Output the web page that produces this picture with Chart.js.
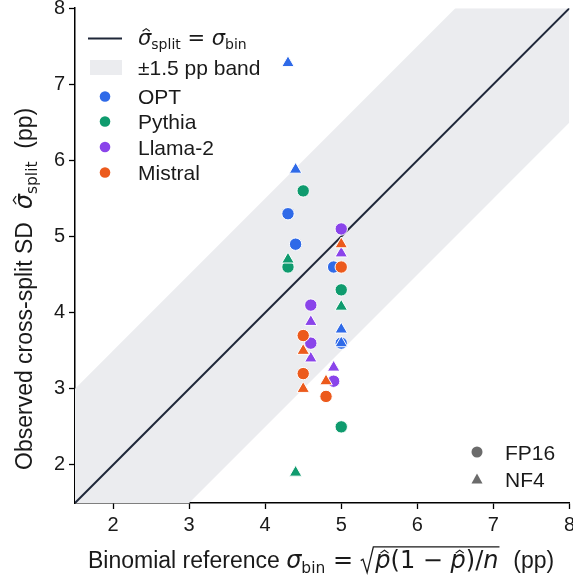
<!DOCTYPE html>
<html><head><meta charset="utf-8">
<script src="https://cdn.jsdelivr.net/npm/chart.js@4.4.0/dist/chart.umd.min.js"></script>
<style>html,body{margin:0;padding:0;background:#fff;overflow:hidden}#wrap{width:579px;height:588px;position:relative}</style>
</head><body><div id="wrap"><canvas id="c"></canvas></div>
<script>
// ---- data ----
const models = ['OPT', 'Pythia', 'Llama-2', 'Mistral'];
const modelColors = ['#2f6ae8', '#0f9b6e', '#8a44ea', '#ec5a1c'];
const quantNames = ['FP16', 'NF4'];
const quantStyles = ['circle', 'triangle'];
const xTicks = [2, 3, 4, 5, 6, 7, 8];
const yTicks = [2, 3, 4, 5, 6, 7, 8];
const axisMin = 1.5, axisMax = 8;
const bandHalfWidth = 1.5;

// sigma_bin (x) and observed sigma_split (y), in pp
const optFP16X = [4.3, 4.4, 4.9, 5.0];
const optFP16Y = [5.3, 4.9, 4.6, 3.6];
const optNF4X = [4.3, 4.4, 5.0, 5.0];
const optNF4Y = [7.28, 5.88, 3.78, 3.6];
const pythiaFP16X = [4.5, 4.3, 5.0, 5.0];
const pythiaFP16Y = [5.6, 4.6, 4.3, 2.5];
const pythiaNF4X = [4.3, 5.0, 4.4];
const pythiaNF4Y = [4.7, 4.08, 1.9];
const llamaFP16X = [5.0, 4.6, 4.6, 4.9];
const llamaFP16Y = [5.1, 4.1, 3.6, 3.1];
const llamaNF4X = [5.0, 4.6, 4.6, 4.9];
const llamaNF4Y = [4.78, 3.88, 3.4, 3.28];
const mistralFP16X = [5.0, 4.5, 4.5, 4.8];
const mistralFP16Y = [4.6, 3.7, 3.2, 2.9];
const mistralNF4X = [5.0, 4.5, 4.8, 4.5];
const mistralNF4Y = [4.9, 3.5, 3.1, 3.0];

const seriesX = [[optFP16X, optNF4X], [pythiaFP16X, pythiaNF4X], [llamaFP16X, llamaNF4X], [mistralFP16X, mistralNF4X]];
const seriesY = [[optFP16Y, optNF4Y], [pythiaFP16Y, pythiaNF4Y], [llamaFP16Y, llamaNF4Y], [mistralFP16Y, mistralNF4Y]];

// ---- fonts ----
const FONT = '"Liberation Sans", Arial, Helvetica, sans-serif';
const MATH = '"DejaVu Sans", sans-serif';
const INK = '#1a1a1a';

const zip = (xs, ys) => xs.map((x, i) => ({x, y: ys[i]}));

const datasets = [];
datasets.push({type: 'line', label: 'band-upper', data: [{x: axisMin, y: axisMin + bandHalfWidth}, {x: axisMax, y: axisMax + bandHalfWidth}],
  borderWidth: 0, borderColor: 'rgba(0,0,0,0)', pointRadius: 0, fill: false, order: 100});
datasets.push({type: 'line', label: 'band-lower', data: [{x: axisMin, y: axisMin - bandHalfWidth}, {x: axisMax, y: axisMax - bandHalfWidth}],
  borderWidth: 0, borderColor: 'rgba(0,0,0,0)', pointRadius: 0, fill: '-1', backgroundColor: '#ebecef', order: 99});
datasets.push({type: 'line', label: 'identity', data: [{x: axisMin, y: axisMin}, {x: axisMax, y: axisMax}],
  borderWidth: 2, borderColor: '#1f2739', pointRadius: 0, fill: false, order: 90});

models.forEach((m, i) => {
  quantNames.forEach((q, j) => {
    datasets.push({
      type: 'scatter', label: m + ' ' + q,
      data: zip(seriesX[i][j], seriesY[i][j]),
      pointStyle: quantStyles[j],
      pointRadius: j === 0 ? 6.2 : 7.2,
      pointBackgroundColor: modelColors[i],
      pointBorderColor: '#ffffff',
      pointBorderWidth: 1,
      pointHoverRadius: j === 0 ? 6.2 : 7.2,
      order: 50 - (i * 2 + j),
      clip: false
    });
  });
});

function drawRuns(ctx, items, x, y, size) {
  let cx = x;
  for (const it of items) {
    if (it.sqrt) {
      const startX = cx;
      const innerStart = startX + size * 0.55;
      const endX = drawRuns(ctx, it.sqrt, innerStart + 2, y, size);
      const top = y - size * 0.92;
      ctx.beginPath();
      ctx.moveTo(startX, y - size * 0.32);
      ctx.lineTo(startX + size * 0.1, y - size * 0.38);
      ctx.lineTo(startX + size * 0.28, y + size * 0.2);
      ctx.lineTo(innerStart, top);
      ctx.lineTo(endX + 1, top);
      ctx.lineWidth = 1.3;
      ctx.strokeStyle = INK;
      ctx.stroke();
      cx = endX + 2;
      continue;
    }
    const s = it.size || size;
    ctx.font = (it.italic ? 'italic ' : '') + s + 'px ' + (it.math ? MATH : FONT);
    const w = ctx.measureText(it.t).width;
    const by = y + (it.dy || 0);
    ctx.fillText(it.t, cx, by);
    if (it.hat) {
      const hx = cx + w / 2 + (it.hatDx || 0);
      const hy = by - s * (it.hatY || 0.78);
      ctx.beginPath();
      ctx.moveTo(hx - s * 0.17, hy + s * 0.12);
      ctx.lineTo(hx, hy);
      ctx.lineTo(hx + s * 0.17, hy + s * 0.12);
      ctx.lineWidth = 1.2;
      ctx.strokeStyle = INK;
      ctx.stroke();
    }
    cx += w + (it.sp || 0);
  }
  return cx;
}

const annot = {
  id: 'annot',
  afterDraw(chart) {
    const ctx = chart.ctx;
    ctx.save();
    ctx.fillStyle = INK;
    ctx.textBaseline = 'alphabetic';
    ctx.textAlign = 'left';

    // legend (top-left)
    ctx.beginPath();
    ctx.moveTo(88, 38.5); ctx.lineTo(122, 38.5);
    ctx.strokeStyle = '#1f2739'; ctx.lineWidth = 2; ctx.stroke();
    const LS = 21;
    drawRuns(ctx, [
      {t: 'σ', italic: true, math: true, hat: true, hatDx: 1.5},
      {t: 'split', math: true, size: 14, dy: 4},
      {t: ' = ', math: true},
      {t: 'σ', italic: true, math: true},
      {t: 'bin', math: true, size: 14, dy: 4}
    ], 138, 45, LS);
    ctx.fillStyle = '#ebecef';
    ctx.fillRect(90, 60, 32, 15);
    ctx.fillStyle = INK;
    ctx.font = LS + 'px ' + FONT;
    ctx.fillText('±1.5 pp band', 138, 75);
    const rowY = [96.5, 121.5, 147, 172.5];
    models.forEach((m, i) => {
      ctx.beginPath();
      ctx.arc(105, rowY[i], 5.3, 0, Math.PI * 2);
      ctx.fillStyle = modelColors[i];
      ctx.fill();
      ctx.fillStyle = INK;
      ctx.font = LS + 'px ' + FONT;
      ctx.fillText(m, 138, rowY[i] + 7.5);
    });

    // legend (bottom-right)
    ctx.fillStyle = '#6b6b6b';
    ctx.beginPath(); ctx.arc(477, 452, 5.5, 0, Math.PI * 2); ctx.fill();
    ctx.beginPath(); ctx.moveTo(477, 473.5); ctx.lineTo(482.5, 483.5); ctx.lineTo(471.5, 483.5); ctx.closePath(); ctx.fill();
    ctx.fillStyle = INK;
    ctx.font = LS + 'px ' + FONT;
    ctx.fillText('FP16', 505, 459.5);
    ctx.fillText('NF4', 505, 486.5);

    // x title
    const TS = 23;
    drawRuns(ctx, [
      {t: 'Binomial reference '},
      {t: 'σ', italic: true, math: true, size: 24},
      {t: 'bin', math: true, size: 15.5, dy: 5},
      {t: ' = ', math: true, size: 24},
      {sqrt: [
        {t: 'p', italic: true, math: true, size: 24, hat: true, hatDx: 1.5, hatY: 0.74},
        {t: '(1 − ', math: true, size: 24},
        {t: 'p', italic: true, math: true, size: 24, hat: true, hatDx: 1.5, hatY: 0.74},
        {t: ')/', math: true, size: 24},
        {t: 'n', italic: true, math: true, size: 24}
      ]},
      {t: '  (pp)'}
    ], 88, 568, TS);

    // y title
    ctx.translate(32, 470);
    ctx.rotate(-Math.PI / 2);
    drawRuns(ctx, [
      {t: 'Observed cross-split SD  '},
      {t: 'σ', italic: true, math: true, size: 24, hat: true, hatDx: 1.5},
      {t: 'split', math: true, size: 15.5, dy: 5},
      {t: '  (pp)'}
    ], 0, 0, TS);
    ctx.restore();
  }
};

const tickFont = {family: FONT, size: 20};
new Chart(document.getElementById('c'), {
  data: {datasets},
  options: {
    responsive: true,
    maintainAspectRatio: false,
    animation: false,
    events: [],
    layout: {padding: {top: 8, right: 3.5, left: 0, bottom: 0}},
    plugins: {legend: {display: false}, tooltip: {enabled: false}, filler: {drawTime: 'beforeDatasetsDraw'}},
    scales: {
      x: {
        type: 'linear', min: axisMin, max: axisMax,
        afterBuildTicks: s => { s.ticks = xTicks.map(v => ({value: v})); },
        afterFit: s => { s.height = 85; },
        ticks: {font: tickFont, color: INK, padding: 4, maxRotation: 0, autoSkip: false},
        grid: {display: true, drawOnChartArea: false, drawTicks: true, tickLength: 6, tickColor: '#000', tickWidth: 1.3},
        border: {display: true, color: '#000', width: 1.5}
      },
      y: {
        type: 'linear', min: axisMin, max: axisMax,
        afterBuildTicks: s => { s.ticks = yTicks.map(v => ({value: v})); },
        afterFit: s => { s.width = 75; s.paddingTop = 0; s.paddingBottom = 0; },
        ticks: {font: tickFont, color: INK, padding: 4, autoSkip: false},
        grid: {display: true, drawOnChartArea: false, drawTicks: true, tickLength: 6, tickColor: '#000', tickWidth: 1.3},
        border: {display: true, color: '#000', width: 1.5}
      }
    }
  },
  plugins: [annot]
});
</script>
</body></html>
